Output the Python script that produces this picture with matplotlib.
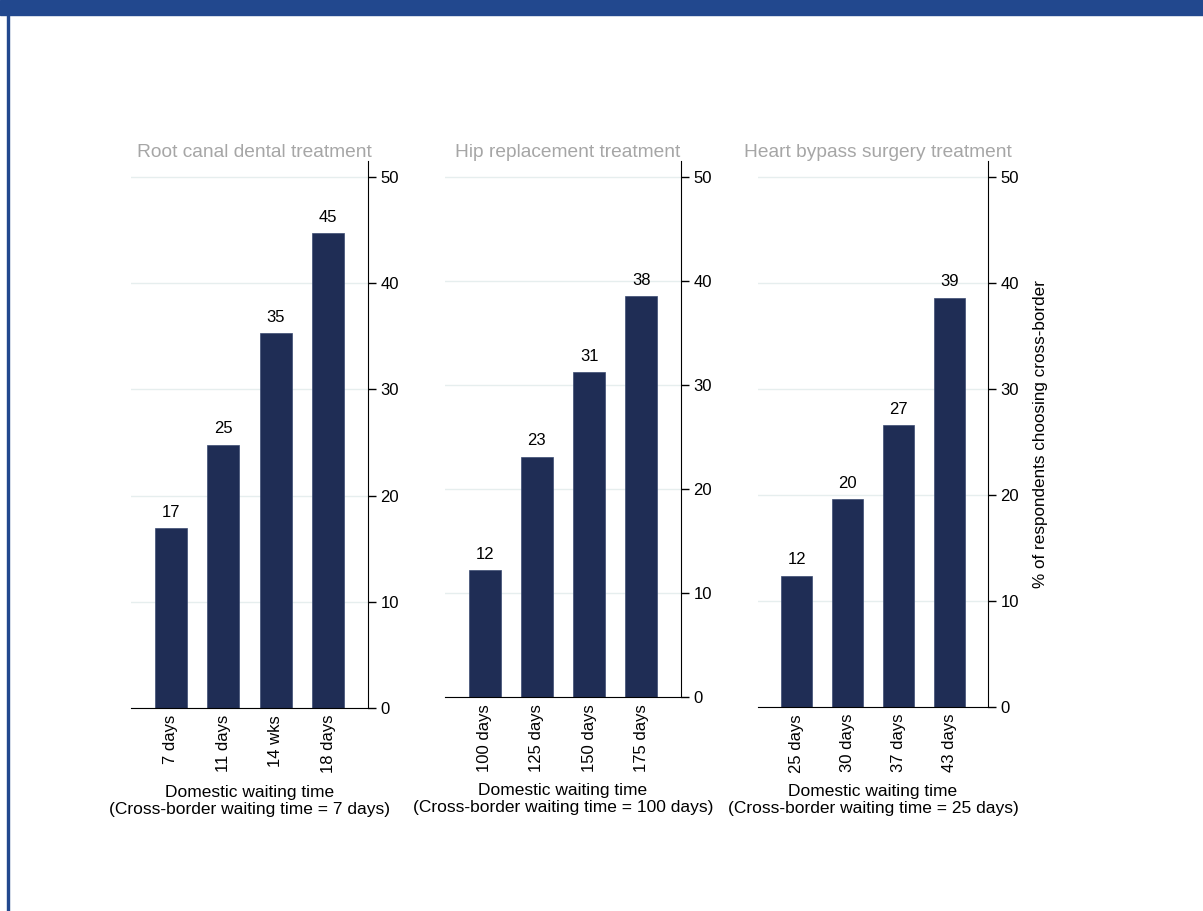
import matplotlib
matplotlib.use("Agg")
import matplotlib.pyplot as plt
from matplotlib.patches import Rectangle

plt.rcParams['font.family'] = ['Liberation Sans', 'DejaVu Sans']
plt.rcParams['font.size'] = 12

# data
titles = ["Root canal dental treatment", "Hip replacement treatment",
          "Heart bypass surgery treatment"]
dental_labels = ["7 days", "11 days", "14 wks", "18 days"]
hip_labels = ["100 days", "125 days", "150 days", "175 days"]
heart_labels = ["25 days", "30 days", "37 days", "43 days"]
dental_vals = [16.9, 24.8, 35.3, 44.7]
hip_vals = [12.2, 23.1, 31.2, 38.5]
heart_vals = [12.4, 19.6, 26.6, 38.6]
cross_border = ["7 days", "100 days", "25 days"]
yticks = [0, 10, 20, 30, 40, 50]

bar_color = '#1f2d55'
band_color = '#22488e'
W, H = 1203, 911

fig = plt.figure(figsize=(W / 100, H / 100), dpi=100)

# top band and left border
fig.patches.append(Rectangle((0, 1 - 15 / H), 1, 15 / H, transform=fig.transFigure,
                             color=band_color, zorder=0))
fig.patches.append(Rectangle((7 / W, 0), 2 / W, 1, transform=fig.transFigure,
                             color=band_color, zorder=0))

# axes boxes in pixels: left, right, top, bottom
boxes = [(131, 368, 161, 708), (445, 681, 161, 697), (758, 988, 161, 707)]
labels_all = [dental_labels, hip_labels, heart_labels]
vals_all = [dental_vals, hip_vals, heart_vals]

for i, (l, r, t, b) in enumerate(boxes):
    ax = fig.add_axes([l / W, 1 - b / H, (r - l) / W, (b - t) / H])
    x = range(1, 5)
    vals = vals_all[i]
    ax.bar(x, vals, width=0.61, color=bar_color, edgecolor='#3b4b72',
           linewidth=0.5, zorder=2)
    for xi, v in zip(x, vals):
        ax.annotate(f"{round(v)}", (xi, v), xytext=(0, 6), textcoords='offset points',
                    ha='center', va='bottom', fontsize=12)
    ax.set_xlim(0.24, 4.76)
    ax.set_ylim(0, 51.5)
    ax.set_xticks(list(x))
    ax.set_xticklabels(labels_all[i], rotation=90)
    ax.set_yticks(yticks)
    ax.yaxis.tick_right()
    ax.tick_params(axis='y', length=6, width=1, pad=3, labelsize=12)
    ax.tick_params(axis='x', length=0, pad=5, labelsize=12)
    for s in ['left', 'top']:
        ax.spines[s].set_visible(False)
    ax.spines['right'].set_color('black')
    ax.spines['bottom'].set_color('black')
    ax.yaxis.grid(True, color='#e6eeee', linewidth=1)
    ax.set_axisbelow(True)
    ax.set_xlabel(f"Domestic waiting time\n(Cross-border waiting time = {cross_border[i]})",
                  fontsize=12.5, labelpad=8)
    ax.text(0.52, 1.0, titles[i], transform=ax.transAxes, ha='center', va='bottom',
            color='#a6a6a6', fontsize=13.8)
    if i == 2:
        ax.yaxis.set_label_position('right')
        ax.set_ylabel("% of respondents choosing cross-border", fontsize=12.3, labelpad=10)

fig.savefig("out.png", dpi=100)
